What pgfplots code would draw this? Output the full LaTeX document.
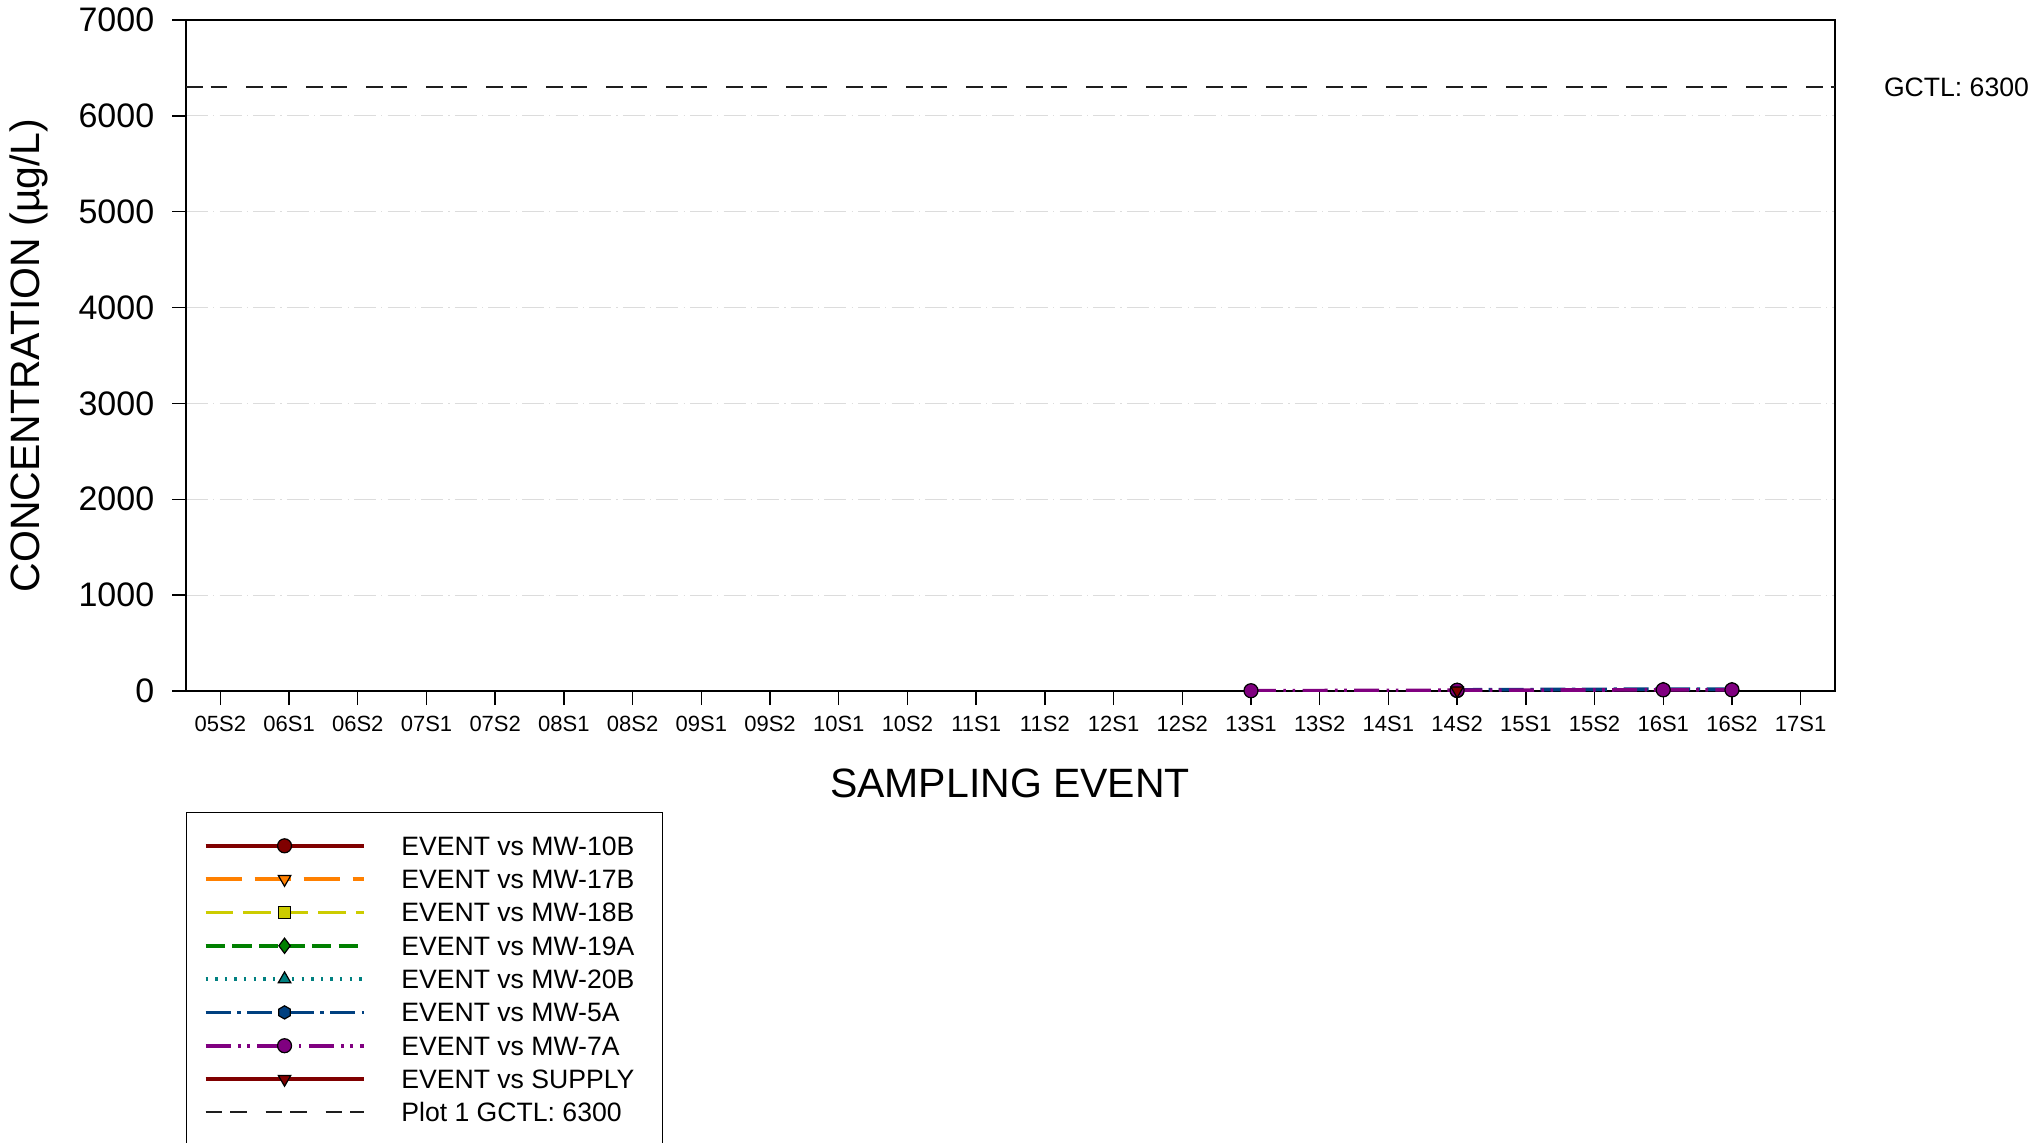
\documentclass[border=0pt]{standalone}
\usepackage{fontspec}
\setmainfont{Liberation Sans}
\usepackage{pgfplots}
\pgfplotsset{compat=1.18}
\definecolor{c10B}{RGB}{128,0,0}
\definecolor{c17B}{RGB}{255,128,0}
\definecolor{c18B}{RGB}{204,204,0}
\definecolor{c19A}{RGB}{0,128,0}
\definecolor{c20B}{RGB}{0,128,128}
\definecolor{c5A}{RGB}{0,64,128}
\definecolor{c7A}{RGB}{128,0,128}
\definecolor{cSUP}{RGB}{128,0,0}
\definecolor{gridc}{RGB}{220,220,220}
\definecolor{gctl}{RGB}{30,30,30}
\pgfdeclareplotmark{hexagon}{%
  \pgfpathmoveto{\pgfqpointpolar{90}{\pgfplotmarksize}}%
  \pgfpathlineto{\pgfqpointpolar{150}{\pgfplotmarksize}}%
  \pgfpathlineto{\pgfqpointpolar{210}{\pgfplotmarksize}}%
  \pgfpathlineto{\pgfqpointpolar{270}{\pgfplotmarksize}}%
  \pgfpathlineto{\pgfqpointpolar{330}{\pgfplotmarksize}}%
  \pgfpathlineto{\pgfqpointpolar{30}{\pgfplotmarksize}}%
  \pgfpathclose\pgfusepathqfillstroke}
\begin{document}
\begin{tikzpicture}
\begin{axis}[
  scale only axis,
  clip mode=individual,
  at={(93pt,225.5pt)}, anchor=south west,
  width=824.5pt, height=335.5pt,
  xmin=-0.5, xmax=23.5, ymin=0, ymax=7000,
  xtick={0,...,23},
  xticklabels={05S2,06S1,06S2,07S1,07S2,08S1,08S2,09S1,09S2,10S1,10S2,11S1,11S2,12S1,12S2,13S1,13S2,14S1,14S2,15S1,15S2,16S1,16S2,17S1},
  ytick={0,1000,...,7000},
  /pgf/number format/assume math mode=true,
  /pgf/number format/set thousands separator={},
  tick align=outside, major tick length=7pt,
  tick style={black, line width=0.7pt},
  xtick pos=bottom, ytick pos=left,
  axis line style={line width=1pt},
  ymajorgrids,
  grid style={gridc, line width=0.5pt, dash pattern=on 11pt off 2.6pt on 0.6pt off 2.6pt},
  xticklabel style={font=\fontsize{11}{13}\selectfont, anchor=north, inner sep=0pt, yshift=-5.3pt},
  yticklabel style={font=\fontsize{17}{20}\selectfont, anchor=east, inner sep=0pt, xshift=-8.7pt},
  xlabel={SAMPLING EVENT},
  xlabel style={font=\fontsize{20.5}{24}\selectfont, at={(rel axis cs:0.4997,-0.1374)}, anchor=center, inner sep=0pt},
  ylabel={CONCENTRATION (µg/L)},
  ylabel style={font=\fontsize{20.5}{24}\selectfont, at={(rel axis cs:-0.0952,0.5)}, anchor=center, rotate=0, inner sep=0pt},
  legend image code/.code={\draw[mark repeat=2,mark phase=2,#1] plot coordinates {(0pt,0pt) (39.5pt,0pt) (79pt,0pt)};},
  legend style={at={(rel axis cs:0,-0.1803)}, anchor=north west, draw=black, line width=0.75pt,
    font=\fontsize{13.3}{16}\selectfont, inner xsep=8.5pt, inner ysep=8.2pt, row sep=0pt,
    nodes={inner sep=0pt, anchor=west, text height=13.08pt, text depth=3.58pt},
    /tikz/every odd column/.append style={column sep=18pt}},
  legend cell align=left,
]
\addplot[c10B, line width=1.8pt, mark=*, mark size=3.5pt, mark options={solid, draw=black, fill=c10B, line width=0.6pt}]
  coordinates {(18,5)};
\addlegendentry{EVENT vs MW-10B}
\addlegendimage{c17B, line width=1.8pt, dash pattern=on 18.3pt off 6.2pt, mark=triangle*, mark size=3.6pt, mark options={solid, rotate=180, draw=black, fill=c17B, line width=0.6pt}}
\addlegendentry{EVENT vs MW-17B}
\addlegendimage{c18B, line width=1.8pt, dash pattern=on 13.8pt off 5pt, mark=square*, mark size=3pt, mark options={solid, draw=black, fill=c18B, line width=0.6pt}}
\addlegendentry{EVENT vs MW-18B}
\addlegendimage{c19A, line width=1.8pt, dash pattern=on 9.7pt off 3.6pt, mark=diamond*, mark size=3.8pt, mark options={solid, draw=black, fill=c19A, line width=0.6pt}}
\addlegendentry{EVENT vs MW-19A\kern5.5pt}
\addlegendimage{c20B, line width=1.8pt, dash pattern=on 1.2pt off 3.6pt, mark=triangle*, mark size=3.6pt, mark options={solid, draw=black, fill=c20B, line width=0.6pt}}
\addlegendentry{EVENT vs MW-20B}
\addplot[c5A, line width=1.8pt, dash pattern=on 12.5pt off 3.3pt on 1.7pt off 3.3pt, mark=hexagon, mark size=3.3pt, mark options={solid, draw=black, fill=c5A, line width=0.6pt}]
  coordinates {(18,12) (21,20) (22,18)};
\addlegendentry{EVENT vs MW-5A}
\addplot[c7A, line width=1.8pt, dash pattern=on 12.5pt off 3.7pt on 1.3pt off 3.3pt on 1.3pt off 3.7pt, mark=*, mark size=3.5pt, mark options={solid, draw=black, fill=c7A, line width=0.6pt}]
  coordinates {(15,3) (18,8) (21,12) (22,12)};
\addlegendentry{EVENT vs MW-7A}
\addplot[cSUP, line width=1.8pt, mark=triangle*, mark size=3.6pt, mark options={solid, rotate=180, draw=black, fill=cSUP, line width=0.6pt}]
  coordinates {(18,5)};
\addlegendentry{EVENT vs SUPPLY}
\addplot[gctl, line width=0.9pt, dash pattern=on 8.3pt off 4pt on 8.3pt off 9.4pt]
  coordinates {(-0.5,6300) (23.5,6300)};
\addlegendentry{Plot 1 GCTL: 6300}
\node[anchor=west, inner sep=0pt, font=\fontsize{13.3}{16}\selectfont, xshift=24.3pt] at (axis cs:23.5,6300) {GCTL: 6300};
\end{axis}
\pgfresetboundingbox
\useasboundingbox (0,0) rectangle (1018.5pt,571pt);
\end{tikzpicture}
\end{document}
